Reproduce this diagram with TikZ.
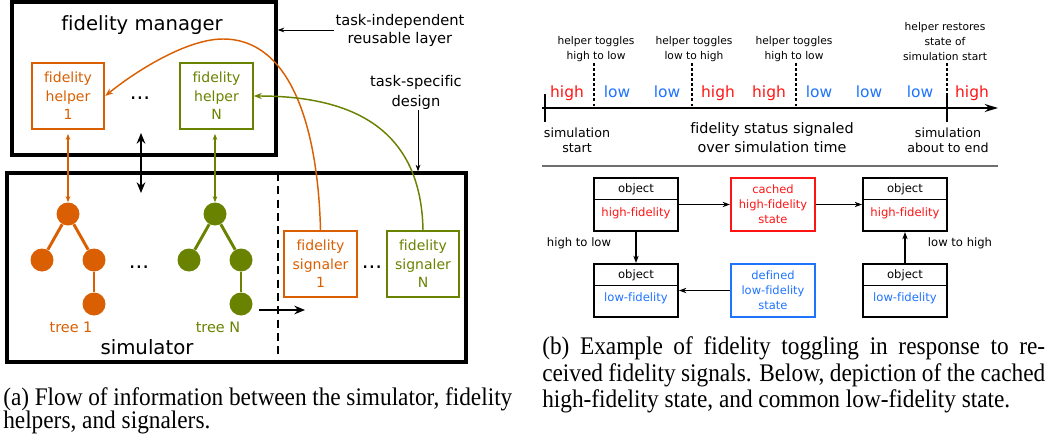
\documentclass[tikz,border=0pt]{standalone}
\usepackage{fontspec}
\setmainfont[Ligatures=NoCommon]{DejaVu Sans}
\newfontfamily\capfont{Liberation Serif}
\usetikzlibrary{arrows.meta}
\definecolor{orng}{RGB}{217,95,2}
\definecolor{olv}{RGB}{105,130,0}
\definecolor{hred}{RGB}{255,20,20}
\definecolor{lblue}{RGB}{30,115,255}
\definecolor{sepgray}{RGB}{110,110,110}
\newcommand{\fsz}[2]{\fontsize{#1}{#2}\selectfont}
\newcommand{\capline}[1]{\scalebox{0.92}[1]{#1}}
\begin{document}
\begin{tikzpicture}[x=0.75pt,y=-0.75pt,
  lbl/.style={inner sep=0pt, align=center},
  bigbox/.style={draw, line width=2.4pt, inner sep=0pt},
  cbox/.style={draw, line width=1.4pt, inner sep=0pt, align=center,
     minimum width=54.5pt, minimum height=49.5pt, font=\fsz{10.5pt}{13.9pt}},
  leaf/.style={circle, fill, inner sep=0pt, minimum size=17.25pt},
  tedge/.style={line width=2.2pt},
  dbl/.style={line width=0.9pt, {Stealth[length=4.5pt,width=3.5pt]}-{Stealth[length=4.5pt,width=3.5pt]}, shorten <=3pt},
  thickarr/.style={line width=2.2pt},
  thinarr/.style={line width=0.7pt, -{Stealth[length=5pt,width=3.5pt]}},
  curvearr/.style={line width=1.1pt, -{Stealth[length=6pt,width=4.5pt]}},
  dots/.style={anchor=base, inner sep=0pt, font=\fsz{16pt}{18pt}},
  tgl/.style={lbl, font=\fsz{8pt}{11.2pt}},
  hl/.style={anchor=base, inner sep=0pt, font=\fsz{11.6pt}{14pt}},
  tdash/.style={line width=1.2pt, dash pattern=on 2.2pt off 1.6pt},
  obj/.style={draw, line width=1.5pt, inner sep=0pt, minimum width=63pt, minimum height=39.75pt},
  stbox/.style={draw, line width=1.6pt, inner sep=0pt, minimum width=63pt, minimum height=39.75pt, align=center, font=\fsz{8.6pt}{11.25pt}},
  otxt/.style={lbl, font=\fsz{8.7pt}{10pt}},
  barr/.style={line width=0.8pt, -{Stealth[length=5.5pt,width=4pt]}},
  captxt/.style={anchor=base west, inner sep=0pt, font=\capfont\fsz{19pt}{22pt}}
]
\useasboundingbox (0,0) rectangle (1063,435);

% ================= left panel =================
\node[bigbox, minimum width=198pt, minimum height=114.75pt] (manager) at (144,78.5) {};
\node[lbl, anchor=base west, font=\fsz{14.7pt}{17pt}] (mantitle) at (61,31) {fidelity manager};
\node[bigbox, minimum width=344.25pt, minimum height=141.75pt] (sim) at (236.5,267.5) {};
\node[lbl, font=\fsz{14.8pt}{17pt}] (simtitle) at (147,347) {simulator};

\node[cbox, draw=orng, text=orng] (help1) at (68,96) {fidelity\\helper\\1};
\node[cbox, draw=olv, text=olv] (helpN) at (216.5,96) {fidelity\\helper\\N};
\node[dots] (mdots) at (140,99) {...};

\node[cbox, draw=orng, text=orng] (sig1) at (320.5,264) {fidelity\\signaler\\1};
\node[cbox, draw=olv, text=olv] (sigN) at (423,264) {fidelity\\signaler\\N};
\node[dots] (sdots) at (372,268) {...};

% trees
\node[leaf, orng] (t1r) at (68,214) {};
\node[leaf, orng] (t1a) at (42,260) {};
\node[leaf, orng] (t1b) at (94,260) {};
\node[leaf, orng] (t1c) at (94,304) {};
\draw[tedge, orng] (t1r) -- (t1a);
\draw[tedge, orng] (t1r) -- (t1b);
\draw[tedge, orng] (t1b) -- (t1c);
\node[leaf, olv] (tNr) at (215,214) {};
\node[leaf, olv] (tNa) at (189,260) {};
\node[leaf, olv] (tNb) at (241,260) {};
\node[leaf, olv] (tNc) at (241,304) {};
\draw[tedge, olv] (tNr) -- (tNa);
\draw[tedge, olv] (tNr) -- (tNb);
\draw[tedge, olv] (tNb) -- (tNc);
\node[lbl, text=orng, font=\fsz{10.8pt}{13pt}] (tree1) at (71,327) {tree 1};
\node[lbl, text=olv, font=\fsz{10.8pt}{13pt}] (treeN) at (218,327) {tree N};
\node[dots] (tdots) at (139,268) {...};

% dashed separator in simulator
\draw[line width=2.2pt, dash pattern=on 6pt off 4pt] (278,173) -- (278,362);

% arrows helper <-> tree
\draw[dbl, orng] (help1.south) -- (t1r.north);
\draw[dbl, olv] (helpN.south -| tNr.north) -- (tNr.north);
\coordinate (ba1) at (141,133);
\coordinate (ba2) at (141,193);
\draw[thickarr, {Stealth[length=8pt,width=6.5pt]}-{Stealth[length=8pt,width=6.5pt]}] (ba1) -- (ba2);
\coordinate (ha1) at (259,310);
\coordinate (ha2) at (305,310);
\draw[thickarr, -{Stealth[length=8pt,width=6.5pt]}] (ha1) -- (ha2);

% curves signaler -> helper
\draw[curvearr, orng] (sig1.north) .. controls (318,130) and (292,39) .. (223,39)
   .. controls (185,39) and (132,74) .. (help1.east);
\draw[curvearr, olv] (sigN.north) .. controls (421,120) and (340,96) .. (helpN.east);

% annotations
\node[lbl, font=\fsz{11pt}{13.5pt}, inner sep=1pt] (tind) at (400,30) {task-independent\\reusable layer};
\draw[thinarr] (tind.west) -- (tind.west -| manager.east);
\node[lbl, font=\fsz{11pt}{15pt}] (tspec) at (416,92) {task-specific\\design};
\coordinate (tsp) at (418,110);
\draw[thinarr] (tsp) -- (tsp |- sim.north);

% ================= right panel: timeline =================
\coordinate (ax0) at (542,108);
\coordinate (ax1) at (998,108);
\draw[line width=1.4pt, -{Stealth[length=10pt,width=6pt]}] (ax0) -- (ax1);
\draw[line width=1.4pt] (545,94) -- (545,122);
\draw[line width=1.4pt] (947,93) -- (947,122);
\draw[tdash] (947,63) -- (947,93);
\draw[tdash] (594,63) -- (594,108);
\draw[tdash] (692,63) -- (692,108);
\draw[tdash] (796,63) -- (796,108);

\node[tgl] (tog1) at (596,49) {helper toggles\\high to low};
\node[tgl] (tog2) at (694,49) {helper toggles\\low to high};
\node[tgl] (tog3) at (794,49) {helper toggles\\high to low};
\node[tgl] (rest) at (945,41.5) {helper restores\\state of\\simulation start};

\node[hl, text=hred] (h1) at (567,98) {high};
\node[hl, text=lblue] (l1) at (617,98) {low};
\node[hl, text=lblue] (l2) at (667,98) {low};
\node[hl, text=hred] (h2) at (718,98) {high};
\node[hl, text=hred] (h3) at (769,98) {high};
\node[hl, text=lblue] (l3) at (819,98) {low};
\node[hl, text=lblue] (l4) at (869,98) {low};
\node[hl, text=lblue] (l5) at (920,98) {low};
\node[hl, text=hred] (h4) at (972,98) {high};

\node[lbl, font=\fsz{9.5pt}{11pt}] (sstart) at (577,140) {simulation\\start};
\node[lbl, font=\fsz{10.8pt}{13.75pt}] (fstat) at (772,137.5) {fidelity status signaled\\over simulation time};
\node[lbl, font=\fsz{9.5pt}{11pt}] (send) at (948,140) {simulation\\about to end};

\draw[sepgray, line width=1.1pt] (542,166) -- (998,166);

% ================= right panel: states =================
\node[obj] (obj1) at (636,204.5) {};
\node[obj] (obj2) at (905,204.5) {};
\node[obj] (obj3) at (636,290.5) {};
\node[obj] (obj4) at (905,290.5) {};
\draw[line width=0.6pt] (594,199) -- (678,199);
\draw[line width=0.6pt] (863,199) -- (947,199);
\draw[line width=0.6pt] (594,285) -- (678,285);
\draw[line width=0.6pt] (863,285) -- (947,285);
\node[otxt] (o1a) at (636,189) {object};
\node[otxt, text=hred] (o1b) at (636,213) {high-fidelity};
\node[otxt] (o2a) at (905,189) {object};
\node[otxt, text=hred] (o2b) at (905,213) {high-fidelity};
\node[otxt] (o3a) at (636,275.5) {object};
\node[otxt, text=lblue] (o3b) at (636,298) {low-fidelity};
\node[otxt] (o4a) at (905,275.5) {object};
\node[otxt, text=lblue] (o4b) at (905,298) {low-fidelity};

\node[stbox, draw=hred, text=hred] (cached) at (773,204.5) {cached\\high-fidelity\\state};
\node[stbox, draw=lblue, text=lblue] (defined) at (773,290.5) {defined\\low-fidelity\\state};

\draw[barr] (obj1.east) -- (cached.west);
\draw[barr] (cached.east) -- (obj2.west);
\draw[barr] (obj1.south) -- (obj3.north);
\draw[barr, line width=1.1pt] (defined.west) -- (obj3.east);
\draw[barr] (obj4.north) -- (obj2.south);
\node[otxt] (h2l) at (579,243) {high to low};
\node[otxt] (l2h) at (960,243) {low to high};

% ================= captions =================
\node[captxt] (capa1) at (3,405) {\capline{\makebox[415pt][s]{(a) Flow of information between the simulator, fidelity}}};
\node[captxt] (capa2) at (3,428.5) {\capline{helpers, and signalers.}};
\node[captxt] (capb1) at (542,354) {\capline{\makebox[410pt][s]{(b) Example of fidelity toggling in response to re-}}};
\node[captxt] (capb2) at (542,381) {\capline{\makebox[410pt][s]{ceived fidelity signals. Below, depiction of the cached}}};
\node[captxt] (capb3) at (542,407) {\capline{high-fidelity state, and common low-fidelity state.}};
\end{tikzpicture}
\end{document}
